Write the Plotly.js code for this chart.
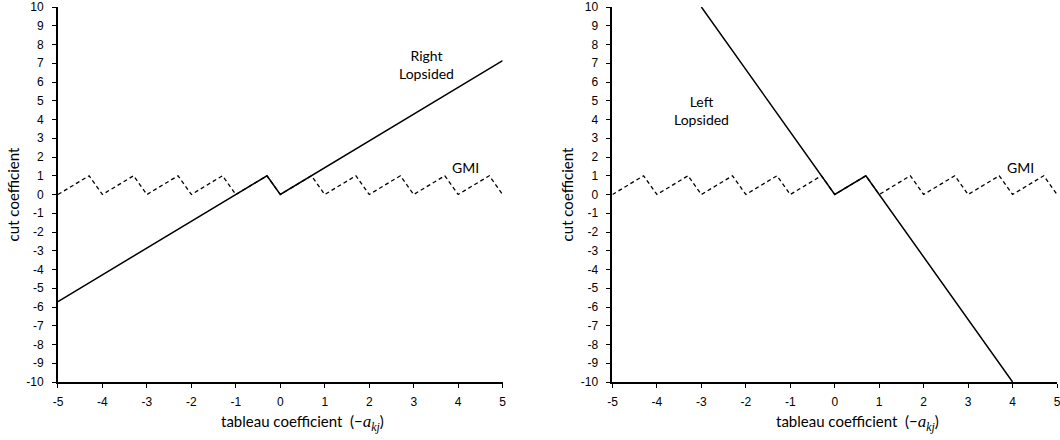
<!DOCTYPE html>
<html>
<head>
<meta charset="utf-8">
<script src="https://cdn.plot.ly/plotly-3.0.1.min.js"></script>
<style>html,body{margin:0;padding:0;background:#fff}#chart{width:1060px;height:440px}</style>
</head>
<body>
<div id="chart"></div>
<script>
// ---- data ----
const xTickVals = [-5, -4, -3, -2, -1, 0, 1, 2, 3, 4, 5];
const yTickVals = [-10, -9, -8, -7, -6, -5, -4, -3, -2, -1, 0, 1, 2, 3, 4, 5, 6, 7, 8, 9, 10];
const gmiX = [-5, -4.3, -4, -3.3, -3, -2.3, -2, -1.3, -1, -0.3, 0, 0.7, 1, 1.7, 2, 2.7, 3, 3.7, 4, 4.7, 5];
const gmiY = [0, 1, 0, 1, 0, 1, 0, 1, 0, 1, 0, 1, 0, 1, 0, 1, 0, 1, 0, 1, 0];
const rightLopX = [-5, -0.3, 0, 5];
const rightLopY = [-5.71, 1, 0, 7.14];
const leftLopX = [-3, 0, 0.7, 4];
const leftLopY = [10, 0, 1, -10];

const labelFont = 'Lato, "Open Sans", sans-serif';
const tickFont = {family: '"Liberation Sans", Arial, sans-serif', size: 12, color: '#000'};

const dashLine = {color: '#000', width: 1.3, dash: '4px,3px'};
const solidLine = {color: '#000', width: 1.5};

const traces = [
  {x: gmiX, y: gmiY, xaxis: 'x', yaxis: 'y', mode: 'lines', line: dashLine, hoverinfo: 'skip'},
  {x: rightLopX, y: rightLopY, xaxis: 'x', yaxis: 'y', mode: 'lines', line: solidLine, hoverinfo: 'skip'},
  {x: gmiX, y: gmiY, xaxis: 'x2', yaxis: 'y2', mode: 'lines', line: dashLine, hoverinfo: 'skip'},
  {x: leftLopX, y: leftLopY, xaxis: 'x2', yaxis: 'y2', mode: 'lines', line: solidLine, hoverinfo: 'skip'}
];

const xTitle = 'tableau coefficient  (−<span style="font-family:\'Liberation Serif\',serif;font-size:17px"><i>a</i><sub><i>kj</i></sub></span>)';

function xAxis(domain) {
  return {
    domain: domain, range: [-5, 5], tickvals: xTickVals, ticktext: xTickVals.map(String),
    showline: true, linecolor: '#000', linewidth: 2, showgrid: false, zeroline: false,
    ticks: 'outside', ticklen: 4, tickwidth: 1, tickcolor: '#000', tickfont: tickFont,
    ticklabelstandoff: 4, ticklabeloverflow: 'allow',
    fixedrange: true
  };
}
function yAxis(anchor) {
  return {
    anchor: anchor, domain: [0, 1], range: [-10.0001, 10.0001], tickvals: yTickVals, ticktext: yTickVals.map(String),
    showline: true, linecolor: '#000', linewidth: 2, showgrid: false, zeroline: false,
    ticks: 'outside', ticklen: 4, tickwidth: 1, tickcolor: '#000', tickfont: tickFont,
    ticklabelstandoff: 6, ticklabeloverflow: 'allow',
    title: {text: 'cut coefficient', font: {family: labelFont, size: 15, color: '#000'}, standoff: 3},
    fixedrange: true
  };
}

const annFont = {family: labelFont, size: 14, color: '#000'};
const titleFont = {family: labelFont, size: 15, color: '#000'};
const layout = {
  width: 1060, height: 440,
  margin: {l: 0, r: 0, t: 7, b: 58},
  paper_bgcolor: '#fff', plot_bgcolor: '#fff',
  showlegend: false,
  xaxis: Object.assign(xAxis([0.0547, 0.4742]), {anchor: 'y'}),
  yaxis: yAxis('x'),
  xaxis2: Object.assign(xAxis([0.5778, 0.9972]), {anchor: 'y2'}),
  yaxis2: yAxis('x2'),
  annotations: [
    {xref: 'x', yref: 'y', x: 3.29, y: 6.95, text: 'Right<br>Lopsided', showarrow: false, font: annFont, align: 'center'},
    {xref: 'x', yref: 'y', x: 4.17, y: 1.43, text: 'GMI', showarrow: false, font: annFont},
    {xref: 'x2', yref: 'y2', x: -3.0, y: 4.5, text: 'Left<br>Lopsided', showarrow: false, font: annFont, align: 'center'},
    {xref: 'x2', yref: 'y2', x: 4.17, y: 1.43, text: 'GMI', showarrow: false, font: annFont},
    {xref: 'paper', yref: 'paper', x: 0.2858, y: -0.109, xanchor: 'center', yanchor: 'middle', text: xTitle, showarrow: false, font: titleFont},
    {xref: 'paper', yref: 'paper', x: 0.8094, y: -0.109, xanchor: 'center', yanchor: 'middle', text: xTitle, showarrow: false, font: titleFont}
  ]
};

Plotly.newPlot('chart', traces, layout, {displayModeBar: false, staticPlot: true});
</script>
</body>
</html>
